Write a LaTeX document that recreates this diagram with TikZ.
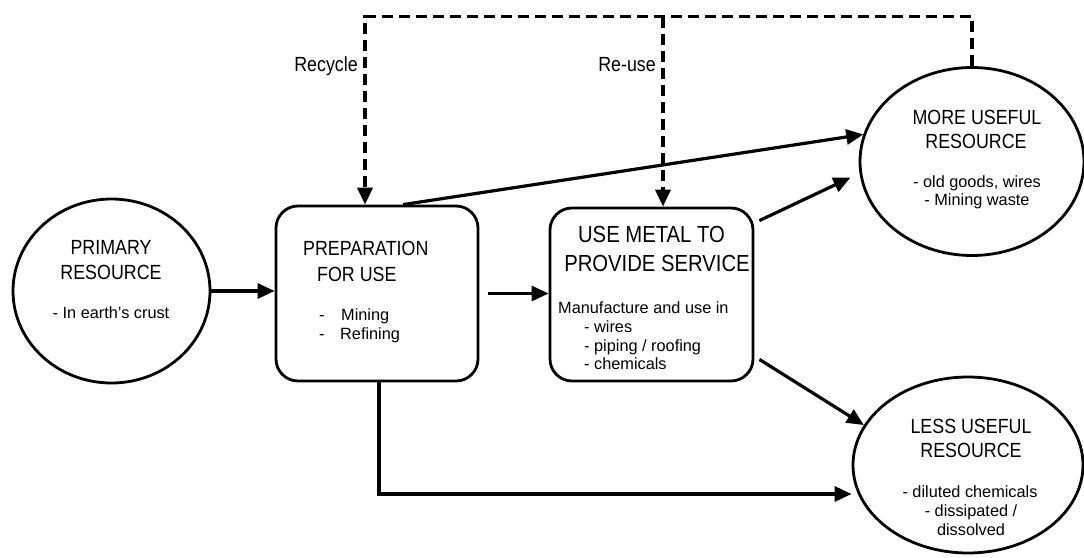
\documentclass[tikz,border=0pt]{standalone}
\usepackage{fontspec}
\setmainfont{Liberation Sans}
\newfontfamily\headfont{Liberation Sans}[FakeStretch=0.87]
\usetikzlibrary{arrows.meta,shapes.geometric}

\begin{document}
\begin{tikzpicture}[x=1pt,y=-1pt,
  res/.style={draw, ellipse, line width=2.8pt, inner sep=0},
  stage/.style={draw, rectangle, rounded corners=22pt, line width=2.8pt, inner sep=0},
  flow/.style={line width=3.2pt, -{Triangle[length=17pt,width=15pt]}},
  loop/.style={flow, line width=3.6pt, dash pattern=on 11pt off 6pt},
  head/.style={font=\headfont\fontsize{20.5}{25}\selectfont, inner sep=0, anchor=base},
  big/.style={font=\headfont\fontsize{23.3}{28}\selectfont, inner sep=0, anchor=base},
  small/.style={font=\fontsize{16.3}{19}\selectfont, inner sep=0, anchor=base},
]
\useasboundingbox (0,0) rectangle (1084,557);

% resources and process stages
\node[res, minimum width=197pt, minimum height=184pt] (prim) at (111.5,291) {};
\node[stage, minimum width=202pt, minimum height=175pt] (prep) at (377,293.5) {};
\node[stage, minimum width=203pt, minimum height=173pt] (use) at (651.5,294.5) {};
\node[res, minimum width=224pt, minimum height=188pt] (more) at (972,161.5) {};
\node[res, minimum width=230pt, minimum height=176pt] (less) at (968,465) {};

% texts
\node[head] (primT1) at (111,254) {PRIMARY};
\node[head] (primT2) at (111,279) {RESOURCE};
\node[small] (primT3) at (111,318) {- In earth's crust};

\node[head, anchor=base west] (prepT1) at (303,255) {PREPARATION};
\node[head, anchor=base west] (prepT2) at (317,281) {FOR USE};
\node[small, anchor=base west] (prepD1) at (319,320) {-};
\node[small, anchor=base west] (prepT3) at (341,320) {Mining};
\node[small, anchor=base west] (prepD2) at (319,339) {-};
\node[small, anchor=base west] (prepT4) at (340,339) {Refining};

\node[big] (useT1) at (651.5,242) {USE METAL TO};
\node[big] (useT2) at (657,271) {PROVIDE SERVICE};
\node[small, anchor=base west] (useT3) at (558,313) {Manufacture and use in};
\node[small, anchor=base west] (useT4) at (584,332) {- wires};
\node[small, anchor=base west] (useT5) at (584,351) {- piping / roofing};
\node[small, anchor=base west] (useT6) at (584,369.5) {- chemicals};

\node[head] (moreT1) at (977,124) {MORE USEFUL};
\node[head] (moreT2) at (976,148) {RESOURCE};
\node[small] (moreT3) at (977,187) {- old goods, wires};
\node[small] (moreT4) at (977,205) {- Mining waste};

\node[head] (lessT1) at (971,433) {LESS USEFUL};
\node[head] (lessT2) at (971,457) {RESOURCE};
\node[small] (lessT3) at (970,497) {- diluted chemicals};
\node[small] (lessT4) at (971,516) {- dissipated /};
\node[small] (lessT5) at (971,535) {dissolved};

% main flow
\draw[flow] (prim.east) -- (prim.east -| prep.west);
\coordinate (pu) at (488,293.5);
\draw[flow] (pu) -- (pu -| use.west);
\draw[flow] ([xshift=26pt]prep.north) -- (more.166);
\draw[flow, shorten >=10pt] ([xshift=5pt,yshift=-14pt]use.north east) -- (more.186);
\draw[flow] ([xshift=5pt,yshift=23pt]use.south east) -- (less.159);
\draw[flow] ([xshift=2pt]prep.south) |- ([yshift=-29pt]less.west);

% recycling and re-use loops
\draw[loop] (more.north) -- ++(0,-49.5) coordinate (corner) -| ([xshift=-12pt]prep.north);
\path ([xshift=11.5pt]use.north) coordinate (ru);
\draw[loop] (ru |- corner) -- (ru);
\node[head, anchor=base east] (recy) at (358,71) {Recycle};
\node[head, anchor=base east] (reuse) at (656,71) {Re-use};
\end{tikzpicture}
\end{document}
